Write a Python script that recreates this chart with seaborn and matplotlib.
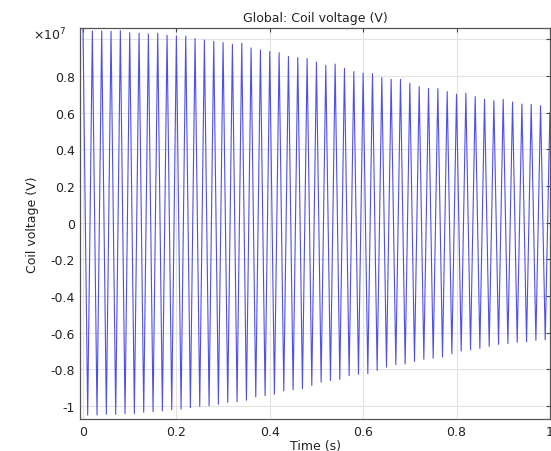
import numpy as np
import pandas as pd
import matplotlib
matplotlib.use("Agg")
import matplotlib.pyplot as plt
import seaborn as sns

# Coil voltage extrema (units of 1e7 V): crest at each 0.02 s, trough halfway between
peaks = [1.054, 1.045, 1.045, 1.044, 1.047, 1.036, 1.033, 1.029, 1.033, 1.022,
         1.018, 1.018, 1.004, 0.996, 0.989, 0.982, 0.973, 0.978, 0.953, 0.942,
         0.933, 0.927, 0.907, 0.900, 0.895, 0.876, 0.858, 0.865, 0.842, 0.824,
         0.815, 0.813, 0.791, 0.782, 0.782, 0.760, 0.742, 0.733, 0.731, 0.715,
         0.701, 0.706, 0.687, 0.673, 0.665, 0.673, 0.658, 0.647, 0.645, 0.638,
         0.600]
troughs = [-1.049, -1.049, -1.045, -1.045, -1.042, -1.042, -1.034, -1.031, -1.027, -1.020,
           -1.016, -1.009, -1.002, -0.998, -0.991, -0.980, -0.977, -0.969, -0.951, -0.944,
           -0.936, -0.918, -0.911, -0.906, -0.888, -0.870, -0.861, -0.855, -0.835, -0.827,
           -0.824, -0.806, -0.788, -0.775, -0.771, -0.757, -0.745, -0.740, -0.733, -0.715,
           -0.700, -0.693, -0.686, -0.675, -0.664, -0.660, -0.653, -0.650, -0.642, -0.639]

# Interleave crest / trough samples on the 0.01 s output grid
voltage = [v for pair in zip(peaks[:-1], troughs) for v in pair] + [peaks[-1]]
time = np.linspace(0.0, 1.0, len(voltage))
df = pd.DataFrame({"Time (s)": time, "Coil voltage (V)": voltage})

x_ticks = [0, 0.2, 0.4, 0.6, 0.8, 1]
x_tick_labels = ["0", "0.2", "0.4", "0.6", "0.8", "1"]
y_ticks = [-1, -0.8, -0.6, -0.4, -0.2, 0, 0.2, 0.4, 0.6, 0.8, 1]
y_tick_labels = ["-1", "-0.8", "-0.6", "-0.4", "-0.2", "0", "0.2", "0.4", "0.6", "0.8", ""]

sns.set_style("white")
plt.rcParams["font.family"] = ["DejaVu Sans"]

fig = plt.figure(figsize=(5.51, 4.52), dpi=100)
ax = fig.add_axes([0.146, 0.0708, 0.852, 0.866])

sns.lineplot(data=df, x="Time (s)", y="Coil voltage (V)", ax=ax,
             color="#4f4fec", linewidth=0.8, estimator=None, sort=False)

ax.set_xlim(-0.0055, 1.0)
ax.set_ylim(-1.071, 1.064)
ax.set_xticks(x_ticks)
ax.set_xticklabels(x_tick_labels)
ax.set_yticks(y_ticks)
ax.set_yticklabels(y_tick_labels)

ax.grid(True, color="#e3e3e3", linewidth=0.8)
ax.set_axisbelow(True)
ax.tick_params(direction="in", length=3, width=0.8, color="#444444",
               top=True, right=True, labelsize=9, labelcolor="#222222", pad=4)
for s in ax.spines.values():
    s.set_color("#555555")
    s.set_linewidth(0.9)

ax.set_title("Global: Coil voltage (V)", fontsize=9, color="#222222", pad=5)
ax.set_xlabel("Time (s)", fontsize=9, color="#222222", labelpad=1)
ax.set_ylabel("Coil voltage (V)", fontsize=9, color="#222222", labelpad=8)

ax.text(-0.03, 1.005, r"$\times10^{7}$", transform=ax.transAxes,
        ha="right", va="top", fontsize=9, color="#222222")

fig.savefig("out.png", dpi=100)
